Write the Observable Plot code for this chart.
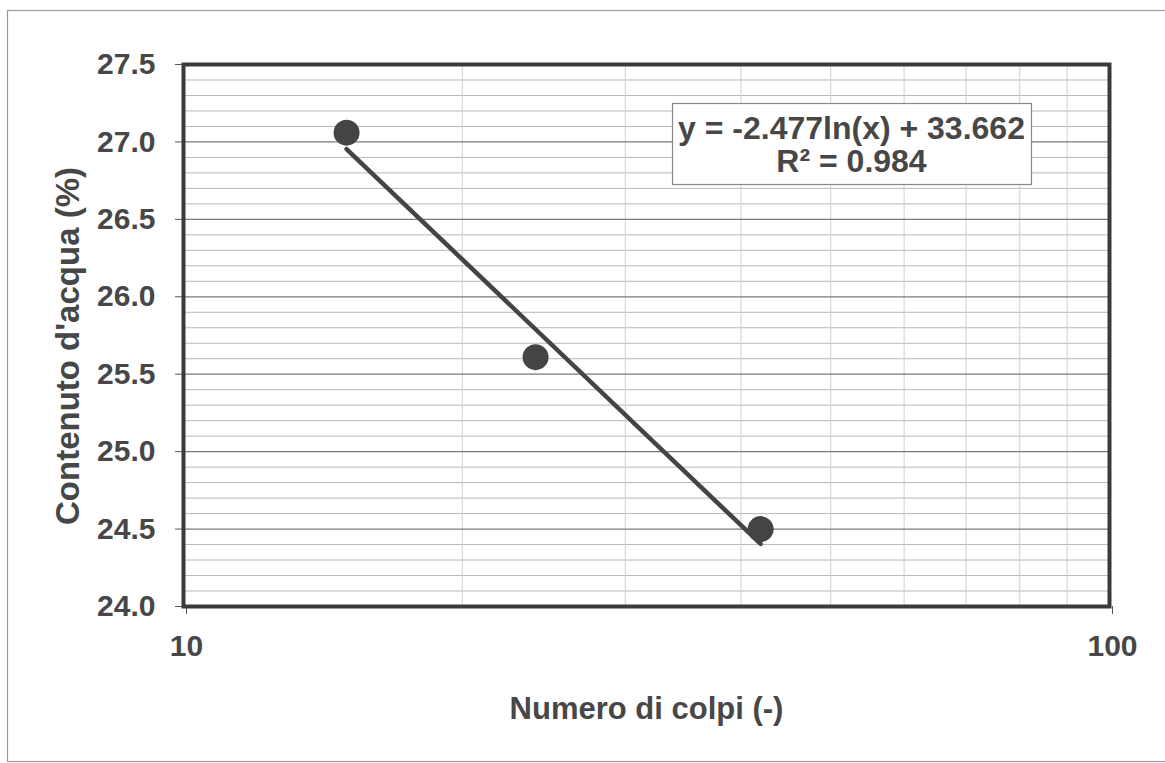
<!DOCTYPE html>
<html>
<head>
<meta charset="utf-8">
<script src="https://cdn.jsdelivr.net/npm/d3@7"></script>
<script src="https://cdn.jsdelivr.net/npm/@observablehq/plot@0.6"></script>
<style>
  html, body { margin: 0; padding: 0; background: #fff; }
  #chart { width: 1165px; height: 763px; }
</style>
</head>
<body>
<div id="chart"></div>
<script>
// ---- data ----
const colpi = [15, 24, 42];                 // Numero di colpi (-)
const acqua = [27.06, 25.61, 24.50];        // Contenuto d'acqua (%)
const trendSlope = -2.477;                  // y = a ln(x) + b
const trendIntercept = 33.662;
const rSquared = 0.984;
const xTicks = [10, 100];
const xMinorGrid = [20, 30, 40, 50, 60, 70, 80, 90];
const yTicks = [24.0, 24.5, 25.0, 25.5, 26.0, 26.5, 27.0, 27.5];
const yMinorGrid = [24.1, 24.2, 24.3, 24.4, 24.6, 24.7, 24.8, 24.9,
                    25.1, 25.2, 25.3, 25.4, 25.6, 25.7, 25.8, 25.9,
                    26.1, 26.2, 26.3, 26.4, 26.6, 26.7, 26.8, 26.9,
                    27.1, 27.2, 27.3, 27.4];
const xLabel = "Numero di colpi (-)";
const yLabel = "Contenuto d'acqua (%)";

const points = colpi.map((x, i) => ({x, y: acqua[i]}));
const xExtent = d3.extent(colpi);
const trend = xExtent.map(x => ({x, y: trendSlope * Math.log(x) + trendIntercept}));
const eqLines = [
  `y = ${trendSlope}ln(x) + ${trendIntercept}`,
  `R² = ${rSquared}`
];

const W = 1165, H = 763;
const textColor = "#474747";
const fontFamily = "Liberation Sans, Arial, sans-serif";

// decorative: outer border, equation box, rotated y-axis title (pixel layout, not data)
function decorations(index, scales, values, dims) {
  const g = d3.create("svg:g");
  g.append("rect")
    .attr("x", 7.5).attr("y", 10.5)
    .attr("width", 1170).attr("height", 751)
    .attr("fill", "none").attr("stroke", "#9a9a9a").attr("stroke-width", 1.2);
  const bx = 672, by = 103, bw = 359, bh = 81;
  g.append("rect")
    .attr("x", bx + 0.5).attr("y", by + 0.5)
    .attr("width", bw).attr("height", bh)
    .attr("fill", "#fff").attr("stroke", "#888").attr("stroke-width", 1.2);
  const t = g.append("text")
    .attr("text-anchor", "middle")
    .attr("font-family", fontFamily)
    .attr("font-weight", "bold")
    .attr("font-size", 32)
    .attr("fill", textColor);
  t.append("tspan").attr("x", bx + bw / 2).attr("y", 139).text(eqLines[0]);
  t.append("tspan").attr("x", bx + bw / 2).attr("y", 172).text(eqLines[1]);
  // y-axis title
  g.append("text")
    .attr("transform", "translate(79,346) rotate(-90)")
    .attr("text-anchor", "middle")
    .attr("font-family", fontFamily)
    .attr("font-weight", "bold")
    .attr("font-size", 33)
    .attr("fill", textColor)
    .text(yLabel);
  return g.node();
}

const chart = Plot.plot({
  width: W,
  height: H,
  marginLeft: 183,
  marginRight: 56,
  marginTop: 64,
  marginBottom: 157,
  style: {
    fontFamily,
    fontSize: "30px",
    fontWeight: "bold",
    color: textColor,
    background: "#fff",
    overflow: "visible"
  },
  x: {type: "log", domain: [10, 100]},
  y: {domain: [24, 27.5]},
  marks: [
    Plot.gridY(yMinorGrid, {stroke: "#b8b8b8", strokeOpacity: 1, strokeWidth: 1}),
    Plot.gridX(xMinorGrid, {stroke: "#d0d0d0", strokeOpacity: 1, strokeWidth: 1}),
    Plot.gridY(yTicks, {stroke: "#7a7a7a", strokeOpacity: 1, strokeWidth: 1.2}),
    Plot.axisY(yTicks, {
      tickSize: 8, tickPadding: 20, tickFormat: d3.format(".1f"),
      fontSize: 30, fontWeight: "bold",
      label: null,
      stroke: "#555"
    }),
    Plot.axisX(xTicks, {
      tickSize: 8, tickPadding: 20, tickFormat: d => String(d),
      fontSize: 30, fontWeight: "bold", dx: 3,
      label: null,
      stroke: "#555"
    }),
    Plot.axisX({
      ticks: [], tickSize: 0,
      label: xLabel, labelAnchor: "center", labelOffset: 112, labelArrow: "none",
      fontSize: 31, fontWeight: "bold"
    }),
    Plot.frame({stroke: "#3a3a3a", strokeWidth: 4}),
    Plot.line(trend, {x: "x", y: "y", stroke: "#444", strokeWidth: 4.5}),
    Plot.dot(points, {x: "x", y: "y", r: 13, fill: "#444", stroke: "none"}),
    decorations
  ]
});
document.getElementById("chart").appendChild(chart);
</script>
</body>
</html>
